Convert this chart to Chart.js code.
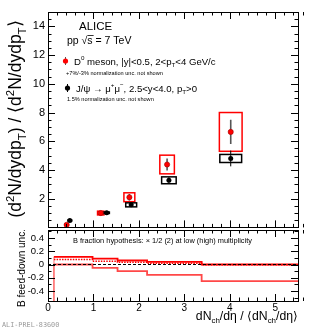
<!DOCTYPE html>
<html>
<head>
<meta charset="utf-8">
<script src="https://cdn.jsdelivr.net/npm/chart.js@4.4.1/dist/chart.umd.min.js"></script>
<style>
  html, body { margin: 0; padding: 0; background: #fff; }
  #wrap { position: relative; width: 315px; height: 329px; overflow: hidden; }
  canvas { position: absolute; left: 0; }
  #topChart { top: 0; }
  #lowChart { top: 228px; }
</style>
</head>
<body>
<div id="wrap">
  <canvas id="topChart" width="315" height="232"></canvas>
  <canvas id="lowChart" width="315" height="101"></canvas>
</div>
<script>
// multiplicity bins (x) and relative yields
const dMesonX = [0.41, 1.16, 1.79, 2.62, 4.02];
const dMesonY = [0.18, 1.0, 2.1, 4.38, 6.65];
const dMesonStat = [0.05, 0.08, 0.22, 0.42, 0.85];
const dMesonSysX = [0.04, 0.07, 0.12, 0.16, 0.25];
const dMesonSysY = [0.03, 0.13, 0.31, 0.65, 1.35];

const jpsiX = [0.48, 1.29, 1.83, 2.66, 4.02];
const jpsiY = [0.48, 1.02, 1.57, 3.28, 4.8];
const jpsiStat = [0.05, 0.05, 0.1, 0.22, 0.55];
const jpsiSysX = [0.04, 0.06, 0.12, 0.16, 0.24];
const jpsiSysY = [0.03, 0.05, 0.14, 0.24, 0.28];

// B feed-down band (lower panel)
const binEdges = [0.13, 0.98, 1.53, 2.18, 3.38, 5.5];
const feedUpper = [0.115, 0.09, 0.06, 0.04, 0.0];
const feedDotted = [0.075, 0.05, 0.035, 0.02, -0.004];
const feedLower = [0.0, -0.05, -0.1, -0.155, -0.25];

const xMin = 0, xMax = 5.5;
const topYMin = 0, topYMax = 15;
const lowYMin = -0.55, lowYMax = 0.52;

const FONT = '"Liberation Sans", Arial, sans-serif';

function toPoints(xs, ys) {
  return xs.map((x, i) => ({ x, y: ys[i] }));
}

function histPoints(edges, vals) {
  const pts = vals.map((v, i) => ({ x: edges[i], y: v }));
  pts.push({ x: edges[edges.length - 1], y: vals[vals.length - 1] });
  return pts;
}

function richWidth(ctx, parts, size) {
  let total = 0;
  parts.forEach(([t, mode]) => {
    ctx.font = (mode ? size * 0.65 : size) + 'px ' + FONT;
    total += ctx.measureText(t).width;
  });
  return total;
}

function drawRich(ctx, parts, x, y, size, align) {
  const total = richWidth(ctx, parts, size);
  let cx = align === 'right' ? x - total : align === 'center' ? x - total / 2 : x;
  parts.forEach(([t, mode]) => {
    ctx.font = (mode ? size * 0.65 : size) + 'px ' + FONT;
    const dy = mode === 'sub' ? size * 0.28 : mode === 'sup' ? -size * 0.42 : 0;
    ctx.fillText(t, cx, y + dy);
    cx += ctx.measureText(t).width;
  });
}

// size that makes a rich string span a given width
function fitSize(ctx, parts, width) {
  return 10 * width / richWidth(ctx, parts, 10);
}

function noPad(s) {
  s.paddingTop = 0; s.paddingBottom = 0; s.paddingLeft = 0; s.paddingRight = 0;
}

function drawFrame(chart, t) {
  const { ctx, chartArea: a, scales: { x, y } } = chart;
  ctx.save();
  ctx.strokeStyle = '#000';
  ctx.lineWidth = 1;
  ctx.beginPath();
  const nx = Math.round((xMax - xMin) / t.xStep);
  for (let i = 0; i <= nx; i++) {
    const px = Math.round(x.getPixelForValue(xMin + i * t.xStep)) + 0.5;
    const len = i % t.xMajorEvery === 0 ? t.major : t.minor;
    ctx.moveTo(px, a.bottom); ctx.lineTo(px, a.bottom - len);
    ctx.moveTo(px, a.top); ctx.lineTo(px, a.top + len);
  }
  const ny = Math.round((t.yTo - t.yFrom) / t.yStep);
  for (let i = 0; i <= ny; i++) {
    const v = t.yFrom + i * t.yStep;
    const py = Math.round(y.getPixelForValue(v)) + 0.5;
    const len = t.isMajorY(v) ? t.major : t.minor;
    ctx.moveTo(a.left, py); ctx.lineTo(a.left + len, py);
    ctx.moveTo(a.right, py); ctx.lineTo(a.right - len, py);
  }
  ctx.stroke();
  ctx.strokeRect(Math.round(a.left) + 0.5, Math.round(a.top) + 0.5,
    Math.round(a.right - a.left), Math.round(a.bottom - a.top));
  ctx.restore();
}

const topPlugin = {
  id: 'topExtras',
  beforeDatasetsDraw(chart) {
    const { ctx, scales: { x, y } } = chart;
    ctx.save();
    // systematic boxes
    const boxes = (xs, ys, sx, sy, color) => {
      ctx.strokeStyle = color;
      ctx.lineWidth = 1.5;
      xs.forEach((v, i) => {
        const x0 = x.getPixelForValue(v - sx[i]);
        const x1 = x.getPixelForValue(v + sx[i]);
        const y0 = y.getPixelForValue(ys[i] + sy[i]);
        const y1 = y.getPixelForValue(ys[i] - sy[i]);
        ctx.strokeRect(x0, y0, x1 - x0, y1 - y0);
      });
    };
    boxes(dMesonX, dMesonY, dMesonSysX, dMesonSysY, '#ff0000');
    boxes(jpsiX, jpsiY, jpsiSysX, jpsiSysY, '#000000');
    // statistical bars
    const bars = (xs, ys, err, color, w) => {
      ctx.strokeStyle = color;
      ctx.lineWidth = w;
      ctx.beginPath();
      xs.forEach((v, i) => {
        const px = x.getPixelForValue(v);
        ctx.moveTo(px, y.getPixelForValue(ys[i] + err[i]));
        ctx.lineTo(px, y.getPixelForValue(ys[i] - err[i]));
      });
      ctx.stroke();
    };
    bars(jpsiX, jpsiY, jpsiStat, '#000', 1);
    bars(dMesonX, dMesonY, dMesonStat, '#555', 1.6);
    ctx.restore();
  },
  afterDraw(chart) {
    drawFrame(chart, {
      xStep: 0.2, xMajorEvery: 5, yFrom: 0, yTo: 15, yStep: 0.5,
      isMajorY: v => Math.abs(v / 2 - Math.round(v / 2)) < 1e-6, major: 7, minor: 3.5
    });
    const ctx = chart.ctx;
    ctx.save();
    ctx.fillStyle = '#000';
    ctx.textBaseline = 'alphabetic';
    // y title
    const yTitle = [['(d', ''], ['2', 'sup'], ['N/dydp', ''], ['T', 'sub'], [') / \u27E8d', ''],
      ['2', 'sup'], ['N/dydp', ''], ['T', 'sub'], ['\u27E9', '']];
    ctx.save();
    ctx.translate(21, 119);
    ctx.rotate(-Math.PI / 2);
    drawRich(ctx, yTitle, 0, 0, Math.min(17.5, fitSize(ctx, yTitle, 212)), 'center');
    ctx.restore();
    // header
    ctx.font = '11.5px ' + FONT;
    ctx.fillText('ALICE', 79, 30);
    ctx.font = '10.5px ' + FONT;
    ctx.fillText('pp ', 67, 44);
    let cx = 67 + ctx.measureText('pp ').width;
    ctx.fillText('\u221A', cx, 44);
    cx += ctx.measureText('\u221A').width;
    const sw = ctx.measureText('s').width;
    ctx.fillText('s', cx, 44);
    ctx.fillRect(cx, 35, sw + 1, 0.8);
    ctx.fillText(' = 7 TeV', cx + sw, 44);
    // legend
    const marker = (mx, my, color, bar) => {
      ctx.strokeStyle = bar;
      ctx.lineWidth = 1;
      ctx.beginPath(); ctx.moveTo(mx + 0.5, my - 4); ctx.lineTo(mx + 0.5, my + 4); ctx.stroke();
      ctx.fillStyle = color;
      ctx.beginPath(); ctx.arc(mx + 0.5, my, 2.6, 0, Math.PI * 2); ctx.fill();
      ctx.fillStyle = '#000';
    };
    marker(65, 61, '#ff0000', '#555');
    drawRich(ctx, [['D', ''], ['0', 'sup'], [' meson, |y|<0.5, 2<p', ''], ['T', 'sub'], ['<4 GeV/c', '']], 74, 64.5, 9.6, 'left');
    ctx.font = '5.6px ' + FONT;
    ctx.fillText('+7%/-3% normalization unc. not shown', 66, 75);
    marker(67, 88, '#000', '#000');
    drawRich(ctx, [['J/\u03C8 \u2192 \u03BC', ''], ['+', 'sup'], ['\u03BC', ''], ['\u2212', 'sup'],
      [', 2.5<y<4.0, p', ''], ['T', 'sub'], ['>0', '']], 76, 91.5, 9.6, 'left');
    ctx.font = '5.6px ' + FONT;
    ctx.fillText('1.5% normalization unc. not shown', 67, 101);
    ctx.restore();
  }
};

const lowPlugin = {
  id: 'lowExtras',
  afterDraw(chart) {
    drawFrame(chart, {
      xStep: 0.2, xMajorEvery: 5, yFrom: -0.5, yTo: 0.5, yStep: 0.1,
      isMajorY: v => Math.round(v * 10) % 2 === 0, major: 7, minor: 3.5
    });
    const ctx = chart.ctx;
    ctx.save();
    ctx.fillStyle = '#000';
    ctx.textBaseline = 'alphabetic';
    ctx.font = '7.4px ' + FONT;
    ctx.fillText('B fraction hypothesis: \u00D7 1/2 (2) at low (high) multiplicity', 73, 15);
    ctx.save();
    ctx.translate(25, 40);
    ctx.rotate(-Math.PI / 2);
    ctx.font = '10px ' + FONT;
    ctx.textAlign = 'center';
    ctx.fillText('B feed-down unc.', 0, 0);
    ctx.restore();
    const xTitle = [['dN', ''], ['ch', 'sub'], ['/d\u03B7 / \u27E8dN', ''], ['ch', 'sub'], ['/d\u03B7\u27E9', '']];
    drawRich(ctx, xTitle, 298, 92, Math.min(13, fitSize(ctx, xTitle, 102)), 'right');
    ctx.fillStyle = '#9a9a9a';
    ctx.font = '6.8px "DejaVu Sans Mono", monospace';
    ctx.fillText('ALI-PREL-83600', 2, 99);
    ctx.restore();
  }
};

new Chart(document.getElementById('topChart'), {
  type: 'scatter',
  data: {
    datasets: [
      { label: 'J/psi', data: toPoints(jpsiX, jpsiY), backgroundColor: '#000', borderColor: '#000', borderWidth: 0, pointRadius: 2.5 },
      { label: 'D0', data: toPoints(dMesonX, dMesonY), backgroundColor: '#ff0000', borderColor: '#a00000', borderWidth: 0.6, pointRadius: 2.6 }
    ]
  },
  options: {
    responsive: false,
    animation: false,
    devicePixelRatio: 1,
    layout: { padding: { top: 12, right: 17, bottom: 2, left: 0 } },
    plugins: { legend: { display: false }, tooltip: { enabled: false } },
    scales: {
      x: { type: 'linear', min: xMin, max: xMax, display: false },
      y: {
        min: topYMin, max: topYMax,
        afterFit: s => { s.width = 48; noPad(s); },
        grid: { display: false, drawTicks: false },
        border: { display: false },
        ticks: {
          stepSize: 2, padding: 3, color: '#000', autoSkip: false, includeBounds: false,
          font: { family: FONT, size: 11 },
          callback: v => (v > 0 && v % 2 === 0) ? v : ''
        }
      }
    }
  },
  plugins: [topPlugin]
});

new Chart(document.getElementById('lowChart'), {
  type: 'line',
  data: {
    datasets: [
      { data: [{ x: xMin, y: 0 }, { x: xMax, y: 0 }], borderColor: '#000', borderWidth: 1, borderDash: [3, 2] },
      {
        data: [{ x: binEdges[0], y: lowYMin }].concat(histPoints(binEdges, feedUpper)),
        borderColor: '#ff0000', borderWidth: 1.8, stepped: true,
        segment: { borderColor: c => c.p0DataIndex === 0 ? 'rgba(255,0,0,0.3)' : undefined }
      },
      { data: histPoints(binEdges, feedDotted), borderColor: '#ff0000', borderWidth: 1.6, borderDash: [1.5, 1.2], stepped: true },
      {
        data: [{ x: binEdges[0], y: lowYMin }].concat(histPoints(binEdges, feedLower)),
        borderColor: 'rgba(255,40,40,0.85)', borderWidth: 1.8, stepped: true,
        segment: { borderColor: c => c.p0DataIndex === 0 ? 'rgba(255,0,0,0.3)' : undefined }
      }
    ]
  },
  options: {
    responsive: false,
    animation: false,
    devicePixelRatio: 1,
    elements: { point: { radius: 0 } },
    layout: { padding: { top: 2, right: 17, bottom: 0, left: 0 } },
    plugins: { legend: { display: false }, tooltip: { enabled: false } },
    scales: {
      x: {
        type: 'linear', min: xMin, max: xMax,
        afterFit: s => { s.height = 28; noPad(s); },
        grid: { display: false, drawTicks: false },
        border: { display: false },
        ticks: {
          stepSize: 1, padding: 1, color: '#000', maxRotation: 0, autoSkip: false, includeBounds: false,
          font: { family: FONT, size: 10 },
          callback: v => Number.isInteger(v) ? v : ''
        }
      },
      y: {
        min: lowYMin, max: lowYMax,
        afterFit: s => { s.width = 48; noPad(s); },
        grid: { display: false, drawTicks: false },
        border: { display: false },
        ticks: {
          stepSize: 0.2, padding: 4, color: '#000', autoSkip: false, includeBounds: false,
          font: { family: FONT, size: 9.5 },
          callback: v => {
            const k = Math.round(v * 5);
            if (Math.abs(v * 5 - k) > 1e-6 || Math.abs(v) > 0.45) return '';
            return k === 0 ? '0' : (k / 5).toFixed(1);
          }
        }
      }
    }
  },
  plugins: [lowPlugin]
});
</script>
</body>
</html>
